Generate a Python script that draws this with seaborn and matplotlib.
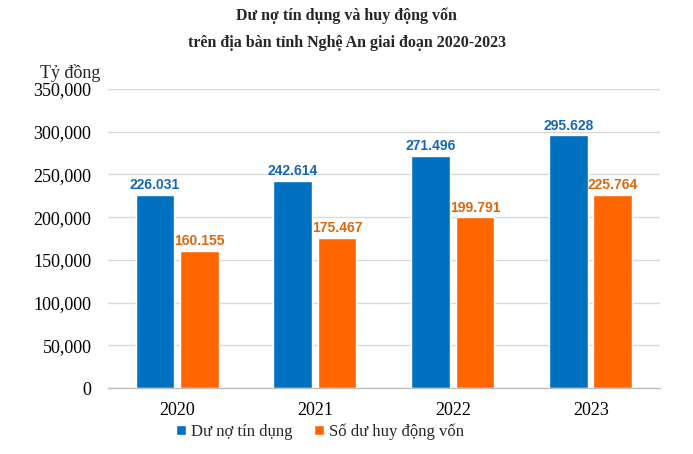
import matplotlib
matplotlib.use("Agg")
import matplotlib.pyplot as plt
import seaborn as sns
import pandas as pd
from matplotlib.ticker import FuncFormatter

years = ["2020", "2021", "2022", "2023"]
series_names = ["Dư nợ tín dụng", "Số dư huy động vốn"]
du_no = [226031, 242614, 271496, 295628]
huy_dong = [160155, 175467, 199791, 225764]
bar_colors = ["#0070C0", "#FF6600"]
label_colors = ["#1467B8", "#D9680F"]

df = pd.DataFrame({
    "year": years * 2,
    "series": [series_names[0]] * 4 + [series_names[1]] * 4,
    "value": du_no + huy_dong,
})

sns.set_theme(style="white")
plt.rcParams["font.family"] = ["Liberation Serif", "DejaVu Serif"]

fig = plt.figure(figsize=(6.93, 4.54), dpi=100)
ax = fig.add_axes([0.156, 0.145, 0.796, 0.659])

sns.barplot(data=df, x="year", y="value", hue="series", order=years,
            hue_order=series_names, palette=bar_colors, width=0.64, gap=0.12,
            saturation=1, ax=ax, legend=True)

ax.set_ylim(0, 350000)
ax.set_yticks(range(0, 350001, 50000))
ax.yaxis.set_major_formatter(FuncFormatter(lambda v, p: f"{int(v):,}"))
ax.grid(axis="y", color="#D9D9D9", linewidth=1)
ax.set_axisbelow(True)
for s in ["left", "right", "top"]:
    ax.spines[s].set_visible(False)
ax.spines["bottom"].set_color("#BFBFBF")
ax.spines["bottom"].set_linewidth(1)
ax.tick_params(axis="both", length=0, labelsize=13, colors="black")
ax.tick_params(axis="x", pad=10)
ax.tick_params(axis="y", pad=12)
ax.set_xlabel("")
ax.set_ylabel("")

for i, cont in enumerate(ax.containers):
    labels = [f"{int(v):,}".replace(",", ".") for v in cont.datavalues]
    ax.bar_label(cont, labels=labels, padding=2, color=label_colors[i],
                 fontsize=10, fontweight="bold", family="Liberation Sans")

handles, lbls = ax.get_legend_handles_labels()
ax.legend(handles, lbls, loc="center", bbox_to_anchor=(0.384, -0.145),
          ncol=2, frameon=False, prop={"family": "Liberation Serif", "size": 12},
          handlelength=0.6, handleheight=0.6,
          handletextpad=0.3, columnspacing=1.3, borderaxespad=0)

fig.text(0.5, 0.965, "Dư nợ tín dụng và huy động vốn", ha="center", va="center",
         fontsize=11.5, fontweight="bold")
fig.text(0.5, 0.905, "trên địa bàn tỉnh Nghệ An giai đoạn 2020-2023", ha="center",
         va="center", fontsize=11.5, fontweight="bold")
fig.text(0.058, 0.84, "Tỷ đồng", ha="left", va="center", fontsize=13)

fig.savefig("out.png", dpi=100)
